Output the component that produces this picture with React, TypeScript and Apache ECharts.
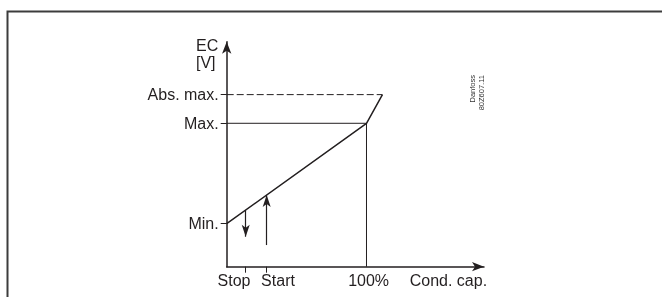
import React, { useEffect, useRef } from "react";
import * as echarts from "echarts";

// Capacity (%) positions of the x-axis ticks
const xTickValues = [13.6, 28.6];
// Capacity (%) positions of the x-axis label centres
const xLabelValues = [5.2, 36.7, 101.5, 158.6];
const xLabelTexts = ["Stop", "Start", "100%", "Cond. cap."];
const xMax = 184.05;

// EC voltage levels
const yLevelValues = [3, 10, 12];
const yLevelLabels = ["Min.", "Max.", "Abs. max."];
const yMax = 15.69;

// Characteristic curve (capacity %, EC)
const curveX = [0, 100, 111.4];
const curveY = [3, 10, 12];

// Stop / Start arrows (capacity %, from EC, to EC)
const stopArrow = [13.6, 3.95, 2.09];
const startArrow = [28.6, 1.51, 5.0];

const INK = "#231f20";
const FONT = "Liberation Sans, Arial, sans-serif";

function labelFor(v: number, vals: number[], labels: string[]) {
  for (let i = 0; i < vals.length; i++) if (Math.abs(vals[i] - v) < 0.01) return labels[i];
  return "";
}

export default function App() {
  const ref = useRef<HTMLDivElement>(null);
  useEffect(() => {
    if (!ref.current) return;
    const chart = echarts.init(ref.current, undefined, { renderer: "svg" });
    const curve = curveX.map((x, i) => [x, curveY[i]]);
    const thin = { color: INK, width: 1 };
    chart.setOption({
      animation: false,
      grid: { left: 226.7, top: 41.7, right: 662 - 484, bottom: 297 - 266.7 },
      xAxis: {
        type: "value",
        min: 0,
        max: xMax,
        splitLine: { show: false },
        axisLine: { show: true, lineStyle: { color: INK, width: 1.5 }, symbol: ["none", "arrow"], symbolSize: [7, 12] },
        axisTick: { show: true, customValues: xTickValues, length: 6, lineStyle: { color: INK, width: 1 } },
        axisLabel: {
          customValues: xLabelValues,
          hideOverlap: false,
          showMinLabel: true,
          showMaxLabel: true,
          margin: 6,
          color: INK,
          fontSize: 16,
          fontFamily: FONT,
          formatter: (v: number) => labelFor(v, xLabelValues, xLabelTexts),
        },
      },
      yAxis: {
        type: "value",
        min: 0,
        max: yMax,
        splitLine: { show: false },
        axisLine: { show: true, lineStyle: { color: INK, width: 1.5 }, symbol: ["none", "arrow"], symbolSize: [7, 12] },
        axisTick: { show: true, customValues: yLevelValues, length: 6, lineStyle: { color: INK, width: 1 } },
        axisLabel: {
          customValues: yLevelValues,
          hideOverlap: false,
          margin: 8,
          color: INK,
          fontSize: 16,
          fontFamily: FONT,
          formatter: (v: number) => labelFor(v, yLevelValues, yLevelLabels),
        },
      },
      series: [
        {
          type: "line",
          data: [[0, yLevelValues[2]], [curveX[2], yLevelValues[2]]],
          symbol: "none",
          silent: true,
          lineStyle: { color: INK, width: 1, type: [7, 3] },
        },
        {
          type: "line",
          data: [[0, yLevelValues[1]], [curveX[1], yLevelValues[1]]],
          symbol: "none",
          silent: true,
          lineStyle: thin,
        },
        {
          type: "line",
          data: [[curveX[1], 0], [curveX[1], curveY[1]]],
          symbol: "none",
          silent: true,
          lineStyle: thin,
        },
        {
          type: "line",
          data: curve,
          symbol: "none",
          silent: true,
          lineStyle: { color: INK, width: 1.5 },
          markLine: {
            silent: true,
            symbol: ["none", "arrow"],
            symbolSize: [6, 12],
            label: { show: false },
            lineStyle: { color: INK, width: 1.2, type: "solid" },
            data: [
              [{ coord: [stopArrow[0], stopArrow[1]] }, { coord: [stopArrow[0], stopArrow[2]] }],
              [{ coord: [startArrow[0], startArrow[1]] }, { coord: [startArrow[0], startArrow[2]] }],
            ],
          },
        },
      ],
      graphic: [
        {
          type: "polyline",
          silent: true,
          shape: { points: [[7.5, 297], [7.5, 11.5], [662, 11.5]] },
          style: { stroke: "#3c3c3c", lineWidth: 2, fill: "none" },
        },
        {
          type: "text",
          left: 196,
          top: 37,
          silent: true,
          style: { text: "EC\n[V]", fill: INK, font: `16px ${FONT}`, lineHeight: 17 },
        },
        {
          type: "text",
          x: 476.5,
          y: 75,
          rotation: Math.PI / 2,
          silent: true,
          style: {
            text: "Danfoss\n80Z607.11",
            fill: "#333",
            font: `7.5px ${FONT}`,
            lineHeight: 9,
            align: "right",
            verticalAlign: "middle",
          },
        },
      ],
    });
    return () => chart.dispose();
  }, []);
  return <div ref={ref} style={{ position: "fixed", left: 0, top: 0, width: 662, height: 297 }} />;
}
